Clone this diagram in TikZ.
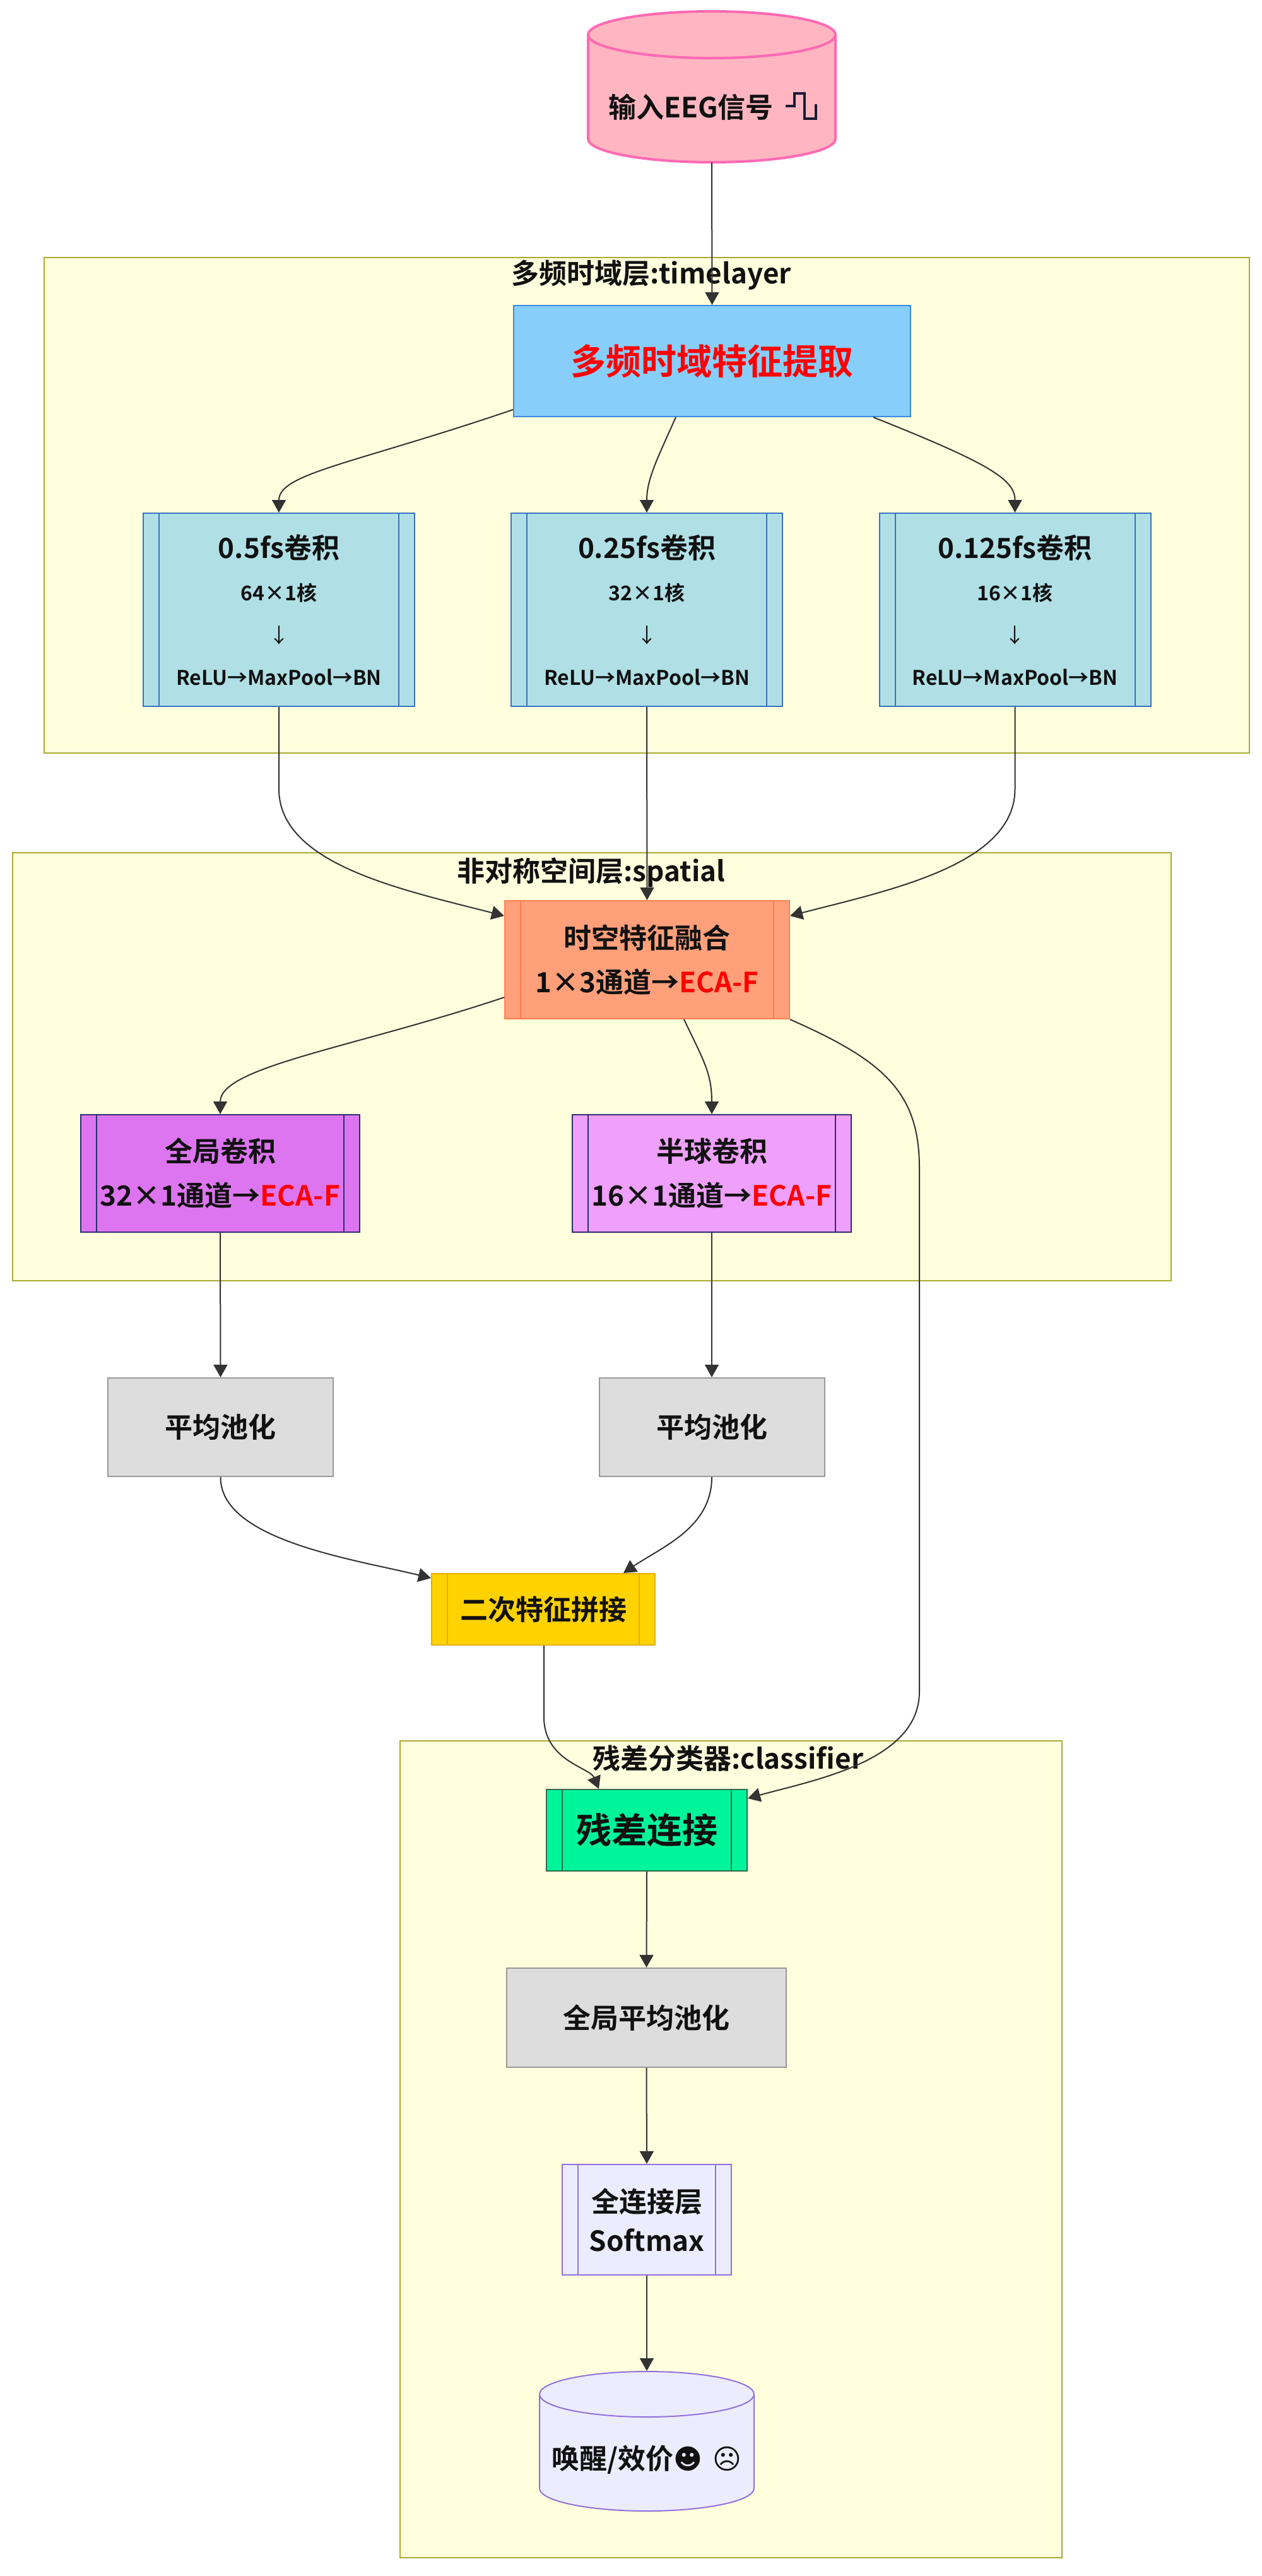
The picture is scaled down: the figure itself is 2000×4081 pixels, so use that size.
\documentclass[tikz,border=0pt]{standalone}
\usepackage{fontspec}
\setmainfont{Noto Sans CJK SC}[BoldFont={Noto Sans CJK SC Bold}]
\newfontfamily\symfont{DejaVu Sans}
\usetikzlibrary{arrows.meta}

\definecolor{eegfill}{HTML}{FFB6C1}
\definecolor{eegline}{HTML}{FF69B4}
\definecolor{pulsecol}{HTML}{1A1A33}
\definecolor{mffill}{HTML}{87CEFA}
\definecolor{mfline}{HTML}{3C8CE0}
\definecolor{convfill}{HTML}{B0E0E6}
\definecolor{convline}{HTML}{3A72C0}
\definecolor{fusefill}{HTML}{FFA07A}
\definecolor{fuseline}{HTML}{FF7F50}
\definecolor{gconvfill}{HTML}{DE75F0}
\definecolor{hconvfill}{HTML}{EEA0FA}
\definecolor{purpline}{HTML}{2E2E6E}
\definecolor{poolfill}{HTML}{DDDDDD}
\definecolor{poolline}{HTML}{999999}
\definecolor{catfill}{HTML}{FFD200}
\definecolor{catline}{HTML}{E3B000}
\definecolor{resfill}{HTML}{00F59B}
\definecolor{resline}{HTML}{2E6B4A}
\definecolor{fcfill}{HTML}{ECECFF}
\definecolor{fcline}{HTML}{9370DB}
\definecolor{clusterfill}{HTML}{FFFFDE}
\definecolor{clusterline}{HTML}{AAAA33}
\definecolor{edgecol}{HTML}{333333}
\definecolor{textblack}{HTML}{111111}
\definecolor{hotred}{HTML}{FF0000}

% cylinder: centre x, top y, bottom y, half width, end radius, style
\newcommand{\drumshape}[6]{%
  \filldraw[#6] (#1-#4,#2+#5) -- (#1-#4,#3-#5)
    arc[start angle=180, end angle=360, x radius=#4*0.5pt, y radius=#5*0.5pt]
    -- (#1+#4,#2+#5)
    arc[start angle=0, end angle=180, x radius=#4*0.5pt, y radius=#5*0.5pt] -- cycle;
  \draw[#6, fill=none] (#1-#4,#2+#5)
    arc[start angle=180, end angle=360, x radius=#4*0.5pt, y radius=#5*0.5pt];}

\tikzset{
  cluster/.style={draw=clusterline, fill=clusterfill, line width=1pt},
  grouptitle/.style={font=\bfseries\fontsize{22}{26}\selectfont, text=textblack, inner sep=0pt},
  plain/.style={rectangle, draw, line width=1pt, align=center, inner sep=0pt,
    text=textblack, font=\bfseries\fontsize{22}{35}\selectfont},
  dims/.style 2 args={minimum width=#1, minimum height=#2},
  subr/.style={plain, path picture={
    \draw[line width=1pt, draw=#1]
      ([xshift=12.5pt]path picture bounding box.north west) -- ([xshift=12.5pt]path picture bounding box.south west)
      ([xshift=-12.5pt]path picture bounding box.north east) -- ([xshift=-12.5pt]path picture bounding box.south east);}},
  convbox/.style={subr=convline, fill=convfill, draw=convline, dims={215pt}{153pt},
    font=\bfseries\fontsize{16}{33.5}\selectfont},
  poolbox/.style={plain, fill=poolfill, draw=poolline},
  pulse/.style={draw=pulsecol, line width=2pt, line join=miter},
  flow/.style={draw=edgecol, line width=1pt, -{Triangle[length=10pt,width=11pt]}}
}

\begin{document}
\begin{tikzpicture}[x=0.5pt, y=-0.5pt]
\useasboundingbox (0,0) rectangle (2000,4081);

% groups
\draw[cluster] (70,408) rectangle (1980,1193);
\draw[cluster] (20,1351) rectangle (1856,2029);
\draw[cluster] (634,2758) rectangle (1683,4052);
\node[grouptitle] (tltitle) at (1032,436) {多频时域层:timelayer};
\node[grouptitle] (sptitle) at (937,1382) {非对称空间层:spatial};
\node[grouptitle] (cltitle) at (1154,2786) {残差分类器:classifier};

% input and output drums
\drumshape{1128}{18}{257}{196}{37}{draw=eegline, fill=eegfill, line width=2pt}
\drumshape{1025}{3757}{3978}{170}{36}{draw=fcline, fill=fcfill, line width=1pt}
\node[draw=none, inner sep=0pt, dims={196.5pt}{119.5pt}] (eeg) at (1128,137.5) {};
\node[plain, draw=none] (eeglbl) at (1095,170) {输入EEG信号};
\draw[pulse] ([shift={(9pt,1pt)}]eeglbl.east) -- ++(7pt,0) -- ++(0,10pt) -- ++(8pt,0)
  -- ++(0,-20pt) -- ++(9pt,0) -- ++(0,11.5pt);
\node[plain, draw=none, dims={170pt}{140pt}] (rst) at (1025,3897) {唤醒/效价{\symfont ☻ ☹}};

% time layer
\node[plain, fill=mffill, draw=mfline, dims={314.5pt}{88pt}, text=hotred,
  font=\bfseries\fontsize{28}{34}\selectfont] (mf) at (1128.5,572) {多频时域特征提取};
\node[convbox] (c1) at (442,966) {{\fontsize{22}{33.5}\selectfont 0.5fs卷积}\\64×1核\\{\mdseries ↓}\\ReLU→MaxPool→BN};
\node[convbox] (c2) at (1025,966) {{\fontsize{22}{33.5}\selectfont 0.25fs卷积}\\32×1核\\{\mdseries ↓}\\ReLU→MaxPool→BN};
\node[convbox] (c3) at (1608.5,966) {{\fontsize{22}{33.5}\selectfont 0.125fs卷积}\\16×1核\\{\mdseries ↓}\\ReLU→MaxPool→BN};

% spatial layer
\node[subr=fuseline, fill=fusefill, draw=fuseline, dims={225.5pt}{93.5pt}] (fuse) at (1025.5,1520.5) {时空特征融合\\1×3通道→{\color{hotred}ECA-F}};
\node[subr=purpline, fill=gconvfill, draw=purpline, dims={221pt}{93pt}] (gconv) at (349,1859) {全局卷积\\32×1通道→{\color{hotred}ECA-F}};
\node[subr=purpline, fill=hconvfill, draw=purpline, dims={221pt}{93pt}] (hconv) at (1128,1859) {半球卷积\\16×1通道→{\color{hotred}ECA-F}};

% pooling and concat
\node[poolbox, dims={178.5pt}{78pt}] (pool1) at (349.5,2261) {平均池化};
\node[poolbox, dims={178.5pt}{78pt}] (pool2) at (1128,2261) {平均池化};
\node[subr=catline, fill=catfill, draw=catline, dims={177pt}{56.5pt}] (cat) at (861,2549.5) {二次特征拼接};

% classifier
\node[subr=resline, fill=resfill, draw=resline, dims={159pt}{64.5pt},
  font=\bfseries\fontsize{28}{34}\selectfont] (res) at (1025,2899.5) {残差连接};
\node[poolbox, dims={221.5pt}{78.5pt}] (gap) at (1024.5,3196.5) {全局平均池化};
\node[subr=fcline, fill=fcfill, draw=fcline, dims={134pt}{87.5pt},
  font=\bfseries\fontsize{22}{31}\selectfont] (fc) at (1025,3516.5) {全连接层\\Softmax};

% connectors
\draw[flow] (eeg.south) -- (mf.north);
\draw[flow] ([yshift=6pt]mf.south west) .. controls (560,735) and (442,750) .. (c1.north);
\draw[flow] ([xshift=-28.75pt]mf.south) .. controls (1040,730) and (1025,760) .. (c2.north);
\draw[flow] ([xshift=127.75pt]mf.south) .. controls (1570,735) and (1608.5,760) .. (c3.north);
\draw[flow] (c1.south) -- (442,1250) .. controls (442,1370) and (640,1410) .. ([yshift=-12.5pt]fuse.north west);
\draw[flow] (c2.south) -- (fuse.north);
\draw[flow] (c3.south) -- (1608.5,1250) .. controls (1608.5,1370) and (1410,1410) .. ([yshift=-12.5pt]fuse.north east);
\draw[flow] ([yshift=17.5pt]fuse.south west) .. controls (560,1660) and (349,1690) .. (gconv.north);
\draw[flow] ([xshift=29.25pt]fuse.south) .. controls (1115,1680) and (1128,1700) .. (hconv.north);
\draw[flow] (fuse.south east) .. controls (1400,1680) and (1457,1730) .. (1457,1850) -- (1457,2680)
  .. controls (1457,2790) and (1290,2820) .. ([yshift=-7.5pt]res.north east);
\draw[flow] (gconv.south) -- (pool1.north);
\draw[flow] (hconv.south) -- (pool2.north);
\draw[flow] (pool1.south) .. controls (349,2440) and (560,2470) .. ([yshift=-4pt]cat.north west);
\draw[flow] (pool2.south) .. controls (1128,2420) and (1050,2450) .. ([xshift=63.5pt]cat.north);
\draw[flow] ([xshift=0.5pt]cat.south) -- (862,2720) .. controls (862,2790) and (935,2800) .. ([xshift=-38pt]res.north);
\draw[flow] (res.south) -- (gap.north);
\draw[flow] (gap.south) -- (fc.north);
\draw[flow] (fc.south) -- (rst.north);
\end{tikzpicture}
\end{document}
